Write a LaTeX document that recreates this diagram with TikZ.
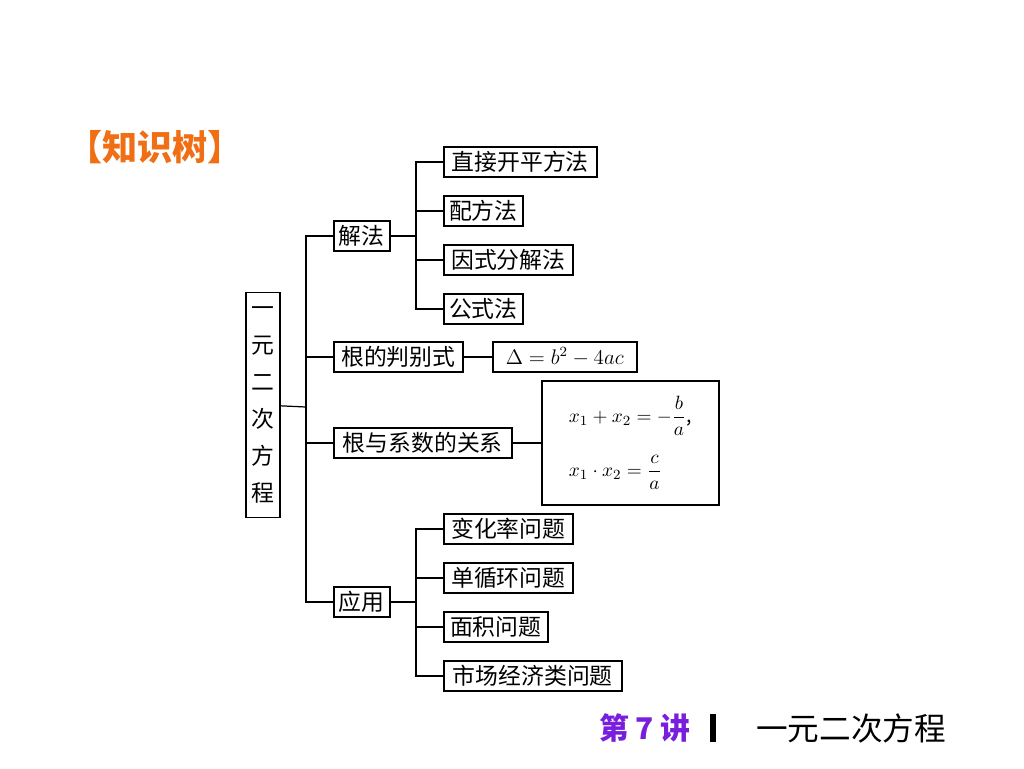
\documentclass[tikz,border=0pt]{standalone}
\usepackage{fontspec}
\usepackage{amsmath}
\setmainfont{Noto Sans CJK SC}
\newfontfamily\cjk{Noto Sans CJK SC}
\usetikzlibrary{positioning}
\definecolor{tree-orange}{RGB}{240,110,20}
\definecolor{lecture-purple}{RGB}{120,30,220}
\tikzset{
    box/.style={draw, line width=0.9pt, inner sep=1pt, minimum height=0.6cm,
        font=\fontsize{13}{15}\selectfont, anchor=west},
    branch/.style={line width=0.7pt},
}
\begin{document}
\begin{tikzpicture}[x=0.02cm, y=-0.02cm]
    \useasboundingbox (0,0) rectangle (1024,768);

    % TITLE
    \node [font=\fontsize{20}{22}\selectfont\bfseries, text=tree-orange] (title) at (155,147) {【知识树】};

    % ROOT
    \node [draw, line width=0.9pt, minimum width=0.66cm, minimum height=4.5cm,
        font=\fontsize{13}{19}\selectfont, align=center] (root) at (263,405)
        {一\\[2pt]元\\[2pt]二\\[2pt]次\\[2pt]方\\[2pt]程};
    \coordinate (trunk) at (306,407);

    % FIRST LEVEL
    \node [box, minimum width=1.12cm] (solve) at (333,236) {解法};
    \node [box, minimum width=2.58cm] (disc) at (333,357) {根的判别式};
    \node [box, minimum width=3.56cm] (vieta) at (333,443) {根与系数的关系};
    \node [box, minimum width=1.12cm] (apply) at (333,602) {应用};

    % SOLVING METHODS
    \node [box, minimum width=3.06cm] (sqrt) at (443,162) {直接开平方法};
    \node [box, minimum width=1.58cm] (square) at (443,211) {配方法};
    \node [box, minimum width=2.58cm] (factor) at (443,260) {因式分解法};
    \node [box, minimum width=1.58cm] (formula) at (443,309) {公式法};

    % APPLICATIONS
    \node [box, minimum width=2.58cm] (rate) at (443,529) {变化率问题};
    \node [box, minimum width=2.58cm] (round) at (443,578) {单循环问题};
    \node [box, minimum width=2.08cm] (area) at (443,627) {面积问题};
    \node [box, minimum width=3.56cm] (market) at (443,676) {市场经济类问题};

    % FORMULAS
    \node [box, minimum width=2.88cm, font=\fontsize{12}{14}\selectfont] (delta) at (492,357)
        {$\Delta = b^2 - 4ac$};
    \node [box, minimum width=3.54cm, minimum height=2.48cm, align=left,
        font=\fontsize{11}{13}\selectfont] (sums) at (541,443)
        {$x_1 + x_2 = -\dfrac{b}{a}$,\\[10pt] $x_1 \cdot x_2 = \dfrac{c}{a}$};

    % BRANCHES
    \draw [branch] (root) -- (trunk);
    \draw [branch] (solve.west) -- ++(-27,0) |- (apply.west);
    \foreach \child in {disc, vieta}
        \draw [branch] (trunk |- \child.west) -- (\child.west);
    \coordinate (solvefork) at (416,236);
    \coordinate (applyfork) at (416,602);
    \draw [branch] (solve) -- (solvefork);
    \draw [branch] (apply) -- (applyfork);
    \draw [branch] (sqrt.west) -- ++(-27,0) |- (formula.west);
    \draw [branch] (rate.west) -- ++(-27,0) |- (market.west);
    \foreach \child in {square, factor}
        \draw [branch] (solvefork |- \child.west) -- (\child.west);
    \foreach \child in {round, area}
        \draw [branch] (applyfork |- \child.west) -- (\child.west);
    \draw [branch] (disc) -- (delta);
    \draw [branch] (vieta) -- (sums);

    % FOOTER
    \node [font=\fontsize{17}{19}\selectfont\bfseries, text=lecture-purple] (lecture) at (645,728) {第 7 讲};
    \node [fill=black, minimum width=3pt, minimum height=0.55cm, inner sep=0pt] (bar) at (713,728) {};
    \node [font=\fontsize{18}{20}\selectfont] (topic) at (851,728) {一元二次方程};
\end{tikzpicture}
\end{document}
